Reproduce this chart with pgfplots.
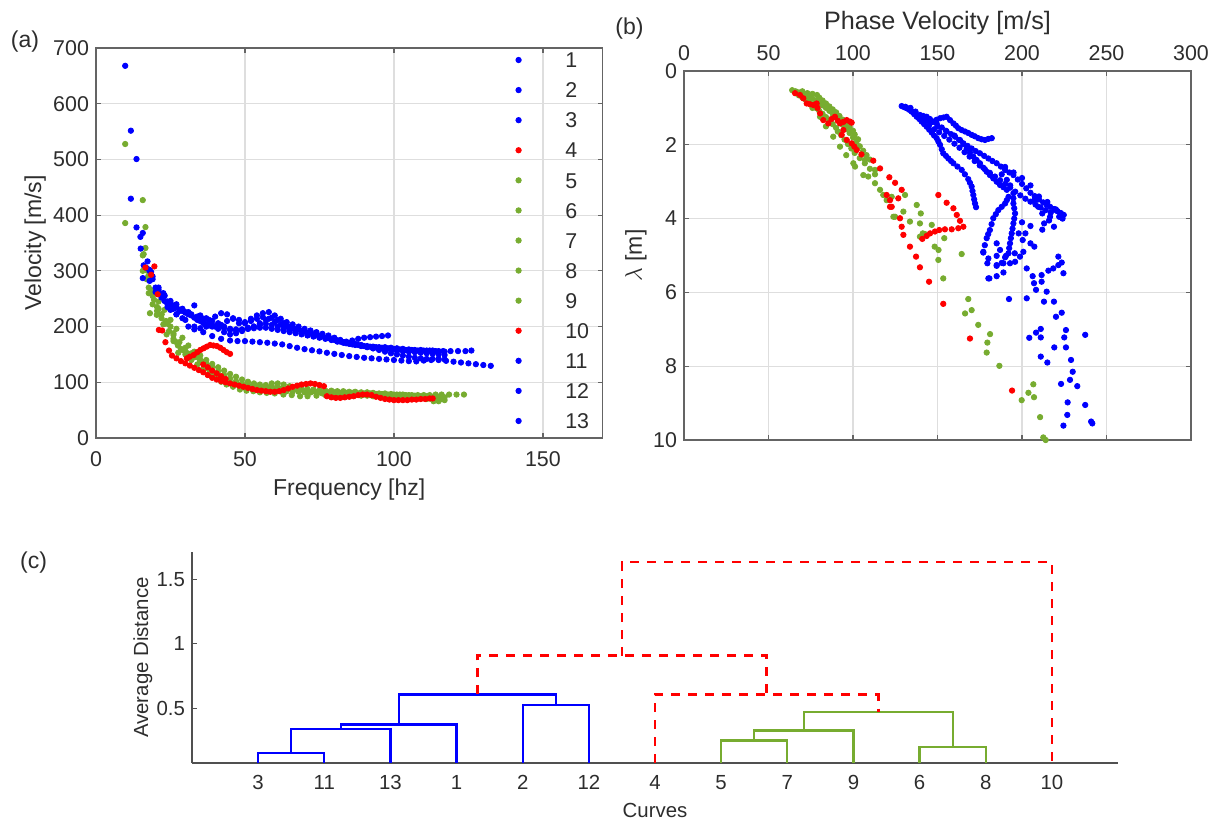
\documentclass[border=0pt]{standalone}
\usepackage{fontspec}
\setmainfont{Liberation Sans}
\usepackage{pgfplots}
\pgfplotsset{compat=1.18}
\definecolor{mblue}{RGB}{0,0,255}
\definecolor{mred}{RGB}{255,0,0}
\definecolor{mgreen}{RGB}{119,172,48}
\definecolor{axgray}{RGB}{100,100,100}
\definecolor{gridgray}{RGB}{222,222,222}
\definecolor{txt}{RGB}{45,45,45}
\newcommand\ft{\fontsize{10.7}{12}\selectfont}
\newcommand\fl{\fontsize{11.5}{13}\selectfont}
\newcommand\fb{\fontsize{12.6}{14}\selectfont}
\newcommand\fc{\fontsize{10.2}{12}\selectfont}
\pgfplotsset{
  mst/.style={only marks, mark=*, mark size=1.35pt, mark options={draw=none}},
  bl/.style={mst, color=mblue, fill=mblue},
  rd/.style={mst, color=mred, fill=mred},
  gr/.style={mst, color=mgreen, fill=mgreen},
  panel/.style={scale only axis, anchor=south west,
    grid=major, grid style={gridgray, line width=0.6pt},
    tick align=inside, major tick length=2.5pt,
    axis line style={axgray, line width=0.8pt},
    tick style={axgray, line width=0.6pt},
    ticklabel style={font=\ft, text=txt},
    label style={font=\fl, text=txt},
    /pgf/number format/assume math mode=true, scaled ticks=false},
}
\begin{document}
\begin{tikzpicture}[x=1pt,y=1pt]
\path[use as bounding box] (0,0) rectangle (606.5,-409.5);
\node[font=\fl, text=txt] at (12.5,-21) {(a)};
\node[font=\fl, text=txt] at (314.75,-14.25) {(b)};
\node[font=\fl, text=txt] at (16.75,-281.25) {(c)};

% ---------------- panel (a)
\begin{axis}[panel, at={(48pt,-219pt)}, width=253.25pt, height=195pt,
  xmin=0, xmax=170, ymin=0, ymax=700,
  xtick={0,50,100,150}, ytick={0,100,...,700},
  xticklabel style={yshift=-3.4pt},
  xlabel={Frequency [hz]}, ylabel={Velocity [m/s]},
  xlabel style={at={(axis description cs:0.5,-0.131)}, anchor=center},
  ylabel style={at={(axis description cs:-0.12,0.5)}, anchor=center},
  legend style={draw=none, fill=none, inner sep=0pt, outer sep=0pt,
    at={(axis description cs:0.829,0.989)}, anchor=north west,
    font=\ft, text=txt, row sep=7.34pt,
    nodes={inner sep=0pt, text height=7.7pt, text depth=0pt},
    /tikz/every odd column/.append style={column sep=22pt}},
  legend cell align=left,
  legend image code/.code={\draw[#1] plot coordinates {(0pt,0pt)};},
]
% green curves 5-9
\addplot[gr, forget plot] table {
9.8 527.7
15.7 327.8
17.7 270
18.1 224
20.4 221
22.6 204
23.7 186
26 174
27.6 153
30.4 153
32.6 147
34.9 138
37.1 126
40.5 108
42 101
43.8 96
46 92
48.3 87
50.5 85
52.8 84
55 82
57.3 81
60 80
62.9 78
65.7 77
68.5 75
71 75
74 76
77 77
80 78
83 78
86 78
89 78
92 77
95 76
98 75
101 74
104 74
107 73
110 72
113 70
113.3 66
115 66
};
\addplot[gr, forget plot] table {
15.7 427
16.6 378.6
17.3 300
18.5 265
19.5 248
21 232
22 222
23.5 210
25 200
26 188
27 172
28.5 160
30 150
32 140
34 132
36 124
38 116
40 110
42 104
44 100
46 97
48 94
50 92
52 90
54 88
56 87
58 86
60 85
62 84
64 84
66 83
68 83
70 82
72 82
74 82
76 82
78 82
80 82
82 81
84 81
86 81
88 80
90 80
92 80
94 79
96 79
98 78
100 78
102 78
104 77
106 77
108 77
110 77
112 77
114 78
116 78
118.5 78
121 78
123.5 78
};
\addplot[gr, forget plot] table {
9.8 385.8
16.6 341
17.7 260
19 240
20.5 228
22 215
23 205
24.5 192
26 178
27.5 166
29 158
31 150
33 145
35 140
37 134
39 128
41 120
43 113
45 107
47 102
49 98
51 96
53 95
55 94
57 93
59 93
61 92
63 92
65 91
67 90
69 89
71 88
73 87
75 86
77 85
79 85
81 84
83 84
85 83
87 83
89 82
91 82
93 81
95 80
97 80
99 79
101 78
103 78
105 77
107 76
109 75
111 75
113 74
115 74
117 73
};
\addplot[gr, forget plot] table {
15.7 300
17 285
19 262
21 245
23 230
25 212
27 196
29 180
31 166
33 155
35 148
37 140
39 133
41 127
43 121
45 115
47 110
49 105
51 101
53 98
55 96
57 95
59 98
61 98
63 96
65 93
67 90
69 88
71 86
73 84
75 83
77 82
79 80
81 79
83 78
85 78
87 77
89 76
91 76
93 75
95 75
97 74
99 73
101 73
103 72
105 72
107 71
109 71
111 70
113 69
115 69
117 68
};
\addplot[gr, forget plot] table {
16 330
17.5 290
19 255
20.5 235
22 222
24 205
26 185
28 172
30 162
32 152
34 145
36 136
38 124
40 115
42 108
44 102
46 98
48 95
50 93
52 91
54 90
56 89
58 88
60 87
62 87
64 86
66 85
68 84
70 83
72 82
74 81
76 80
78 80
80 79
82 79
84 79
86 78
88 78
90 78
92 77
94 77
96 76
98 76
100 75
102 75
104 74
106 73
108 73
110 72
112 72
114 71
116 70
};
% blue curves 1,2,3,11,12,13
\addplot[bl, forget plot] table {
9.8 668
14.9 361
17.9 302
20 270
22.6 260
24 245
26 238
28 230
30 226
32 222
34 218
36 214
38 212
40 218
42 224
44 222
46 214
48 206
50 206
52 214
54 220
56 224
58 226
60 220
62 214
64 208
66 204
68 200
70 196
72 193
74 190
76 187
78 184
80 180
82 176
84 173
86 175
88 178
90 180
92 181
94 182
96 183
98 184
};
\addplot[bl, forget plot] table {
11.7 551.6
15.7 287
18 282
20 262
22 252
24 240
26 232
28 228
30 225
32 220
34 212
36 206
38 202
40 200
42 203
44 210
46 215
48 212
50 208
52 210
54 214
56 217
58 214
60 208
62 204
64 200
66 197
68 195
70 192
72 189
74 186
76 183
78 180
80 176
82 173
84 170
86 168
88 167
90 165
92 164
94 163
96 162
98 161
100 160
102 159
104 158
106 158
108 157
110 157
112 157
114 156
116.5 156
119 156
121.5 156
124 156
126 157
};
\addplot[bl, forget plot] table {
13.6 500.7
16 310
18.5 298
21 266
23 256
25 246
27 240
29 232
31 226
33 238
35 220
37 215
39 210
41 206
43 200
45 196
47 195
49 195
51 198
53 200
55 203
57 205
59 203
61 200
63 197
65 194
67 191
69 188
71 185
73 183
75 181
77 179
79 177
81 175
83 172
85 170
87 168
89 166
91 165
93 164
95 163
97 163
99 162
101 161
103 160
105 159
107 158
109 158
111 157
113 157
115 156
117 155
};
\addplot[bl, forget plot] table {
11.7 429.5
15.7 368
17 305
19 290
21 270
23 246
25 230
27 222
29 215
31 200
33 195
35 197
37 200
39 203
41 201
43 197
45 194
47 193
49 194
51 196
53 197
55 198
57 198
59 196
61 194
63 192
65 190
67 188
69 186
71 184
73 182
75 180
77 178
79 176
81 173
83 171
85 169
87 167
89 165
91 163
93 161
95 160
97 159
99 158
101 157
103 156
105 155
107 154
109 153
111 152
113 151
115 150
117 149
};
\addplot[bl, forget plot] table {
13.6 378
15 340
18 300
21 260
24 235
27 222
30 212
33 200
36 190
39 183
42 178
45 175
47.5 174
50 174
52.5 173
55 172
57.5 171
60 169.5
62.5 168
65 165
67.5 162
70 159.5
72.5 157.5
75 155.5
77.5 153
80 151
82.5 149
85 147
87.5 145.5
90 144
92.5 143
95 142
97.5 141
100 140
102.5 139
105 138
107.5 137.5
110 139
112.5 140
115 140
117.5 138.5
120 137
122.5 135.5
125 134
127.5 132.5
130 131
132.5 129.5
};
\addplot[bl, forget plot] table {
17.3 317
19 285
21 262
23 255
25 240
27 235
29 228
31 222
33 216
35 210
37 205
39 200
41 196
43 190
45 186
47 188
49 192
51 196
53 200
55 206
57 212
59 216
61 212
63 206
65 200
67 196
69 192
71 189
73 186
75 183
77 180
79 177
81 175
83 172
85 170
87 169
89 167
91 164
93 161
95 158
97 155
99 152
101 150
103 148
105 146
107 144
109 143
111 142
113 142
115 142
117 141
};
% red curves 4 and 10
\addplot[rd, forget plot] table {
16.6 306
18.5 293
20.7 258
22.2 193
23.3 172
24.5 157
25.5 148
27 143
28.5 138
30 134
31.5 130
33 126
34.5 122
36 118
37.5 113
39 108
40.5 105
42 102
43.5 100
45 98
46.5 96
48 94
49.5 92
51 90
52.5 88
54 86
55.5 85
57 84
58.5 83
60 83
61.5 84
63 86
64.5 89
66 92
67.5 94
69 96
70.5 97
72 98
73.5 97
75 95
76.5 93
77.5 75
79 73
80.5 72
82 72
83.5 73
85 74
86.5 75
88 77
89.5 78
91 78
92.5 77
94 74
95.5 72
97 70
98.5 69
100 68
101.5 68
103 68
104.5 68
106 69
107.5 69
109 70
110.5 70
112 71
113 71
};
\addplot[rd, forget plot] table {
19.6 308
21.1 194
30.5 143
31.5 146
32.8 149
34 154
35 158
36.1 161
37.2 164
38.3 167
39.4 166
40.6 165
41.7 162
42.8 158
43.9 154
45 151
36 132
37.5 127
39 121
40.5 116
42 111
43.5 106
};
\addlegendimage{bl}\addlegendentry{1}
\addlegendimage{bl}\addlegendentry{2}
\addlegendimage{bl}\addlegendentry{3}
\addlegendimage{rd}\addlegendentry{4}
\addlegendimage{gr}\addlegendentry{5}
\addlegendimage{gr}\addlegendentry{6}
\addlegendimage{gr}\addlegendentry{7}
\addlegendimage{gr}\addlegendentry{8}
\addlegendimage{gr}\addlegendentry{9}
\addlegendimage{rd}\addlegendentry{10}
\addlegendimage{bl}\addlegendentry{11}
\addlegendimage{bl}\addlegendentry{12}
\addlegendimage{bl}\addlegendentry{13}
\end{axis}

% ---------------- panel (b)
\begin{axis}[panel, at={(342pt,-220pt)}, width=253.5pt, height=184.5pt,
  xmin=0, xmax=300, ymin=0, ymax=10, y dir=reverse,
  xtick={0,50,...,300}, ytick={0,2,...,10},
  xticklabel pos=top,
  xticklabel style={yshift=1.5pt},
  xlabel={Phase Velocity [m/s]}, ylabel={$\lambda$ [m]},
  xlabel style={at={(axis description cs:0.5,1.13)}, anchor=center, font=\fb},
  ylabel style={at={(axis description cs:-0.095,0.5)}, anchor=center},
]
% green
\addplot[gr] table {
64 0.52
66 0.55
68 0.58
70 0.62
72 0.66
74 0.7
76 0.75
78 0.8
80 0.86
82 0.93
84 1.0
86 1.08
88 1.16
90 1.26
92 1.36
94 1.46
96 1.57
98 1.68
100 1.8
102 1.92
104 2.04
106 2.16
108 2.28
110 2.4
};
\addplot[gr] table {
70 0.55
73 0.6
76 0.62
78.7 0.65
80 0.72
82 0.8
84 0.88
86 0.96
88 1.04
90 1.12
92 1.22
94 1.32
96 1.42
98 1.52
100 1.62
101 1.72
103 1.85
};
\addplot[gr] table {
66 0.6
68 0.66
70 0.72
72 0.78
74 0.85
76 0.92
78 1.0
80 1.08
82 1.16
84 1.25
86 1.34
88 1.44
90 1.54
91 1.64
93 1.74
95 1.86
97 1.98
99 2.1
101 2.22
104 2.36
107 2.5
110 2.65
113 2.8
};
\addplot[gr] table {
72.6 0.79
76 1.0
80.5 1.24
84 1.5
88.3 1.78
92.3 2.05
96 2.28
100.2 2.5
101.2 2.59
106.1 2.82
109 2.86
113 3.04
116 3.22
117.9 3.36
119.9 3.5
122.9 3.41
130.8 3.36
124.9 3.95
129.8 3.81
133.7 4.08
137.7 3.63
139.6 4.13
140.1 3.86
141.3 4.4
148.3 4.76
150.6 4.85
154 4.53
150.5 5.12
164.3 4.96
153.4 5.62
142.6 4.42
146.6 4.17
139.6 4.49
123.9 3.95
107.1 2.41
113 2.68
168.2 6.18
166.3 6.57
170.2 6.48
174.1 6.88
181.1 7.13
179.5 7.36
179.1 7.63
186.6 7.99
206.7 8.49
203.8 8.72
207.1 8.84
199.8 8.92
210.7 9.38
212.6 9.93
214 10.0
};
% red
\addplot[rd] table {
65.7 0.6
68.6 0.65
70.6 0.74
72.6 0.88
74.5 0.9
76.5 0.92
78.5 0.88
79 1.0
80.5 1.15
82.4 1.33
85.4 1.42
87.3 1.3
89.3 1.24
91 1.35
92.3 1.42
94.3 1.38
96.3 1.33
98.2 1.37
99.2 1.4
94.3 1.6
93.3 1.73
96.3 1.87
99.2 1.96
100.8 2.05
102.2 2.14
105 2.26
112 2.43
116 2.64
121.5 2.88
124.9 3.03
128.8 3.22
126.8 3.45
121.9 3.68
119.9 3.36
121.9 3.5
122.9 3.68
127.8 3.99
128.8 4.22
129.8 4.44
133.7 4.76
137.3 5.03
139.6 5.32
145 5.71
153.4 6.31
169.2 7.25
194.1 8.66
};
\addplot[rd] table {
150.5 3.36
155.4 3.57
159.4 3.72
161.4 3.9
163.3 4.06
165.3 4.22
162.3 4.26
158.4 4.29
154.4 4.29
151 4.31
148.5 4.35
145.6 4.4
143.6 4.47
141 4.55
};
% blue
\addplot[bl] table {
128.8 0.95
130.3 0.98
131.8 1.01
133.2 1.05
134.7 1.1
136.2 1.17
137.7 1.24
139.2 1.3
140.6 1.37
142.1 1.44
143.6 1.51
145.1 1.59
146.6 1.67
148 1.75
149.5 1.82
150.5 1.91
151.5 2.0
152.5 2.12
153.4 2.23
155 2.3
156.4 2.37
158 2.44
159.4 2.5
161.8 2.59
164.3 2.68
166.2 2.8
168.2 2.93
169.2 3.03
170.2 3.13
170.7 3.25
171.2 3.36
171.7 3.48
172.2 3.59
172.8 3.69
};
\addplot[bl] table {
131 0.97
134 1.0
137 1.1
139.6 1.19
141.6 1.22
143.6 1.24
145.5 1.3
147.5 1.37
149.5 1.32
151.5 1.28
153.5 1.26
155.4 1.24
157.4 1.33
159.4 1.42
160.9 1.48
162.3 1.55
164.3 1.6
166.3 1.64
168.2 1.68
170.2 1.73
172.1 1.77
174.1 1.82
176.1 1.85
178.1 1.87
180.1 1.84
182.1 1.82
};
\addplot[bl] table {
135 1.1
138 1.2
141 1.28
144 1.33
147 1.38
149.5 1.42
152.5 1.53
155.4 1.64
158 1.71
160.4 1.78
162.8 1.87
165.3 1.96
167.8 2.03
170.2 2.1
172.6 2.17
175.1 2.23
177.6 2.3
180.1 2.37
182.5 2.44
185 2.5
187.5 2.59
190 2.68
192.5 2.75
194.9 2.82
197.5 2.94
200 3.06
202.5 3.18
205 3.3
207.5 3.39
210 3.48
212.5 3.56
214.5 3.62
216.6 3.68
219 3.74
221 3.8
223 3.85
224.7 3.9
};
\addplot[bl] table {
133 1.02
136 1.12
139 1.24
142 1.36
145 1.47
148 1.58
151 1.66
154 1.76
157 1.86
160 1.97
163 2.08
166 2.2
169 2.32
172 2.44
175 2.56
178 2.66
181 2.76
184 2.86
187 2.96
190 3.06
193 3.16
196 3.27
199 3.37
202 3.46
205 3.54
208 3.62
211 3.7
214 3.77
217 3.84
};
\addplot[bl] table {
145 1.35
150 1.5
155 1.62
160 1.75
163.3 1.87
165.3 1.98
167.3 2.1
169.2 2.21
171.2 2.32
173.1 2.41
175.1 2.5
177.1 2.62
179.1 2.73
181 2.82
183 2.91
185 3.0
187 3.09
189 3.15
191 3.22
192 3.41
191 3.5
190 3.59
188 3.68
186 3.77
184.5 3.88
183 3.99
182 4.15
181 4.31
180 4.42
179.1 4.53
178 4.72
177.1 4.9
};
\addplot[bl] table {
188 2.8
191 2.95
193 3.1
194.9 3.31
194.9 3.45
194.9 3.59
195.4 3.72
195.9 3.86
195.4 4.0
194.9 4.13
194.4 4.27
193.9 4.4
193.4 4.53
192.9 4.67
192.4 4.8
192 4.94
190 5.05
188 5.2
190 2.6
195 2.75
200 2.9
205 3.1
207.3 3.5
209.6 3.68
212 3.86
213.1 4.13
218.9 4.22
220 3.77
216.6 3.95
210 3.4
215 3.55
220 3.75
222 3.95
224 4.0
216 4.05
212 4.3
205 4.2
200 4.1
202 4.4
};
\addplot[bl] table {
185 4.67
187 4.85
180.1 5.08
185 5.26
189 5.21
180.1 5.62
189 5.46
198 4.4
200.4 4.58
205 4.67
207.3 4.76
195.7 4.94
177.1 4.92
179.5 5.21
180.7 5.62
185 5.56
185 5.28
185 5.01
190.5 5.01
192.9 5.21
195.9 5.17
198.8 5.03
200.8 4.9
202.8 5.35
192.3 6.18
202.8 6.16
206.3 5.56
207.1 5.75
208.3 5.93
211.6 5.71
213 6.25
214.6 5.98
211.6 5.53
215.6 5.41
218.5 5.35
221.5 5.26
223.5 5.19
224.5 5.48
221.5 5.03
218.9 6.25
220.1 6.66
223.5 6.55
204.3 7.23
208.3 7.09
211.1 6.99
211.1 7.22
219.1 7.49
225 7.22
226 7.02
226 7.49
211.1 7.74
215 7.9
229 7.83
230 8.15
228.4 8.37
223.1 8.48
232.7 8.54
227 8.98
226.8 9.32
224.5 9.61
237.4 7.15
237.4 9.05
240.9 9.5
241.6 9.55
};
\end{axis}

% ---------------- panel (c)
\begin{axis}[scale only axis, anchor=south west, at={(96pt,-381.5pt)},
  width=463pt, height=105.5pt,
  xmin=0, xmax=14, ymin=0.075, ymax=1.71,
  axis x line=bottom, axis y line=left,
  axis line style={-, draw={rgb,255:red,80;green,80;blue,80}, line width=0.9pt},
  xtick={1,...,13}, xticklabels={3,11,13,1,2,12,4,5,7,9,6,8,10},
  x tick style={draw=none},
  ytick={0.5,1,1.5}, yticklabels={0.5,1,1.5},
  tick align=inside, major tick length=2.5pt,
  y tick style={draw={rgb,255:red,80;green,80;blue,80}, line width=0.6pt},
  ticklabel style={font=\fc, text=txt},
  xticklabel style={yshift=-2.5pt},
  label style={font=\fc, text=txt},
  xlabel={Curves}, ylabel={Average Distance},
  xlabel style={at={(axis description cs:0.5,-0.223)}, anchor=center},
  ylabel style={at={(axis description cs:-0.053,0.5)}, anchor=center},
  clip=false,
  blk/.style={color=mblue, line width=1.1pt, mark=none},
  grk/.style={color=mgreen, line width=1.1pt, mark=none},
  rdk/.style={color=mred, line width=1.3pt, mark=none, dash pattern=on 4.5pt off 4pt},
]
\addplot[blk] coordinates {(1,0.075) (1,0.153) (2,0.153) (2,0.075)};
\addplot[blk] coordinates {(1.5,0.153) (1.5,0.337) (3,0.337) (3,0.075)};
\addplot[blk] coordinates {(2.25,0.337) (2.25,0.373) (4,0.373) (4,0.075)};
\addplot[blk] coordinates {(5,0.075) (5,0.523) (6,0.523) (6,0.075)};
\addplot[blk] coordinates {(3.125,0.373) (3.125,0.606) (5.5,0.606) (5.5,0.523)};
\addplot[grk] coordinates {(8,0.075) (8,0.249) (9,0.249) (9,0.075)};
\addplot[grk] coordinates {(8.5,0.249) (8.5,0.327) (10,0.327) (10,0.075)};
\addplot[grk] coordinates {(11,0.075) (11,0.2) (12,0.2) (12,0.075)};
\addplot[grk] coordinates {(9.25,0.327) (9.25,0.471) (11.5,0.471) (11.5,0.2)};
\addplot[rdk] coordinates {(7,0.075) (7,0.606) (10.375,0.606) (10.375,0.471)};
\addplot[rdk] coordinates {(4.3125,0.606) (4.3125,0.908) (8.6875,0.908) (8.6875,0.606)};
\addplot[rdk] coordinates {(6.5,0.908) (6.5,1.634) (13,1.634) (13,0.075)};
\end{axis}
\end{tikzpicture}
\end{document}
